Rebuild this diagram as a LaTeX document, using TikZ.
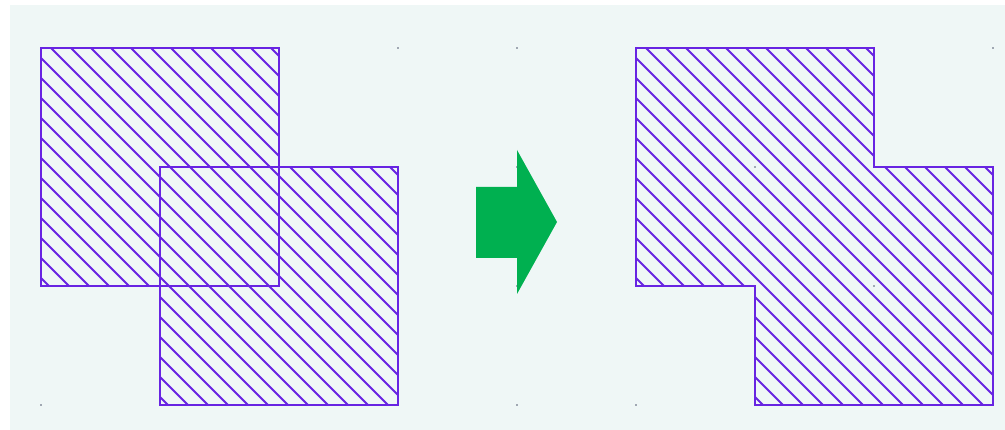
\documentclass[tikz,border=0pt]{standalone}
\usepackage{xcolor}
\usepackage{tikz}

\definecolor{shapepurple}{RGB}{104,36,226}
\definecolor{arrowgreen}{RGB}{0,176,80}
\definecolor{paper}{RGB}{239,247,246}
\definecolor{dotgray}{RGB}{160,168,178}

\begin{document}
\begin{tikzpicture}[x=119pt, y=-119pt,
    outline/.style={draw=shapepurple, line width=2.6pt, line join=miter},
    hatch/.style={shapepurple, line width=1.8pt},
    gridpt/.style={fill=dotgray}]
  \useasboundingbox (-41/119, -48/119) rectangle (964/119, 382/119);
  \fill[paper] (-31/119, -43/119) rectangle (964/119, 382/119);

  % grid points
  \foreach \x in {0,...,8}
    \foreach \y in {0,...,3}
      \fill[gridpt] (\x,\y) ++(-1.2pt,-1.2pt) rectangle ++(2.4pt,2.4pt);

  % left: two overlapping squares
  \coordinate (a1) at (0, 0);
  \coordinate (a2) at (2, 2);
  \coordinate (b1) at (1, 1);
  \coordinate (b2) at (3, 3);

  \begin{scope}
    \clip (a1) rectangle (a2) (b1) rectangle (b2);
    \foreach \k in {-15,...,13}
      \draw[hatch] ({(10+20*\k)/119 - 1}, -1) -- ++(5, 5);
  \end{scope}
  \draw[outline] (b1) rectangle (b2);
  \draw[outline] (a1) rectangle (a2);

  % arrow
  \fill[arrowgreen] (435/119, 139/119) -- (476/119, 139/119)
    -- (476/119, 102/119) -- (516/119, 174/119) -- (476/119, 246/119)
    -- (476/119, 210/119) -- (435/119, 210/119) -- cycle;

  % right: union
  \coordinate (u1) at (5, 0);
  \coordinate (u2) at (7, 0);
  \coordinate (u3) at (7, 1);
  \coordinate (u4) at (8, 1);
  \coordinate (u5) at (8, 3);
  \coordinate (u6) at (6, 3);
  \coordinate (u7) at (6, 2);
  \coordinate (u8) at (5, 2);

  \begin{scope}
    \clip (u1) -- (u2) -- (u3) -- (u4) -- (u5) -- (u6) -- (u7) -- (u8) -- cycle;
    \foreach \k in {-15,...,20}
      \draw[hatch] ({5 + (10+20*\k)/119 - 1}, -1) -- ++(5, 5);
  \end{scope}
  \draw[outline] (u1) -- (u2) -- (u3) -- (u4) -- (u5) -- (u6) -- (u7)
    -- (u8) -- cycle;
\end{tikzpicture}
\end{document}
